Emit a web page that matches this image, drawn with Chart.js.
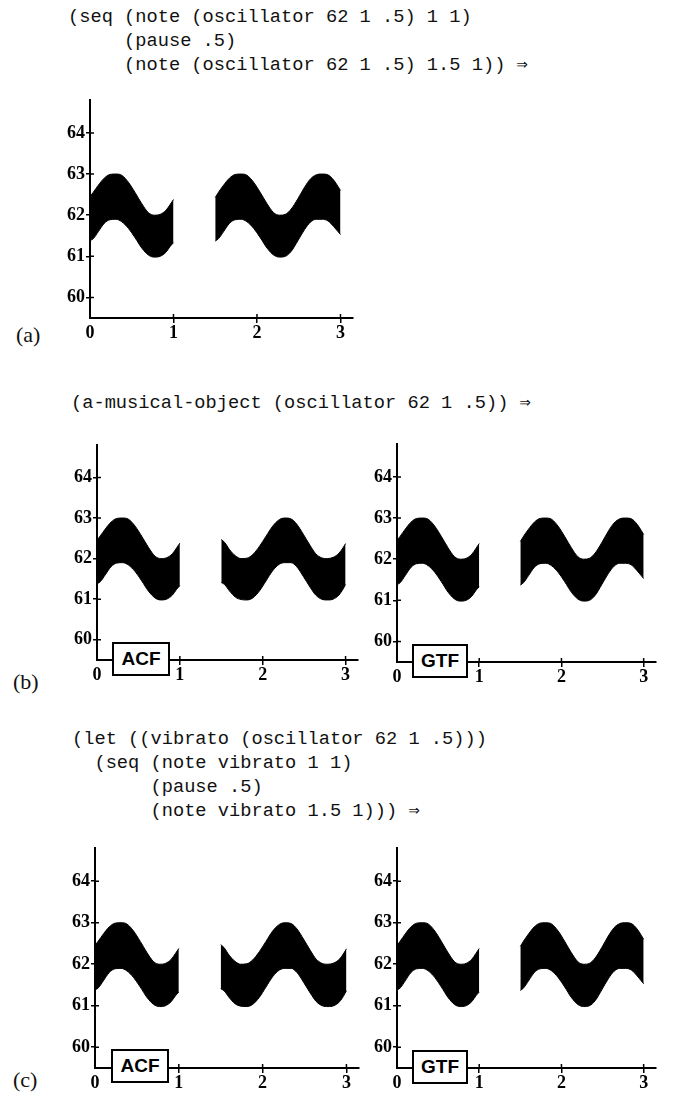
<!DOCTYPE html>
<html>
<head>
<meta charset="utf-8">
<script src="https://cdn.jsdelivr.net/npm/chart.js@4.4.1/dist/chart.umd.min.js"></script>
<style>
  body { margin: 0; background: #fff; width: 673px; height: 1096px; position: relative; overflow: hidden; }
  .code { position: absolute; margin: 0; font-family: "Liberation Mono", "DejaVu Sans Mono", monospace; font-size: 18.7px; line-height: 24px; color: #111; white-space: pre; }
  .part { position: absolute; font-family: "Liberation Serif", serif; font-size: 22px; line-height: 24px; color: #111; }
  .tag { position: absolute; box-sizing: border-box; border: 2px solid #000; background: #fff; z-index: 2;
         font-family: "Liberation Sans", Arial, sans-serif; font-weight: bold; font-size: 19px; line-height: 29px; text-align: center; }
  canvas { position: absolute; }
</style>
</head>
<body>
<pre class="code" style="left:68px; top:5px">(seq (note (oscillator 62 1 .5) 1 1)
     (pause .5)
     (note (oscillator 62 1 .5) 1.5 1)) ⇒</pre>
<pre class="code" style="left:71px; top:391px">(a-musical-object (oscillator 62 1 .5)) ⇒</pre>
<pre class="code" style="left:72px; top:727px">(let ((vibrato (oscillator 62 1 .5)))
  (seq (note vibrato 1 1)
       (pause .5)
       (note vibrato 1.5 1))) ⇒</pre>

<div class="part" style="left:16px; top:323px">(a)</div>
<div class="part" style="left:13px; top:670px">(b)</div>
<div class="part" style="left:13px; top:1068px">(c)</div>

<div class="tag" style="left:112px; top:642px; width:58px; height:34px">ACF</div>
<div class="tag" style="left:412px; top:644px; width:56px; height:34px">GTF</div>
<div class="tag" style="left:111px; top:1049px; width:58px; height:34px">ACF</div>
<div class="tag" style="left:412px; top:1050px; width:56px; height:34px">GTF</div>

<script>
// tick values shown on every panel
const xTickValues = [0, 1, 2, 3];
const yTickValues = [60, 61, 62, 63, 64];

// first note (0 - 1), same in every panel
const note1Times = [0, 0.04, 0.1, 0.17, 0.24, 0.31, 0.38, 0.46, 0.54, 0.62, 0.7, 0.77, 0.84, 0.91, 0.96, 1.0];
const note1Upper = [62.45, 62.56, 62.73, 62.9, 62.99, 63.0, 62.97, 62.8, 62.55, 62.28, 62.06, 62.0, 62.02, 62.12, 62.26, 62.38];
const note1Lower = [61.38, 61.43, 61.6, 61.8, 61.89, 61.9, 61.84, 61.68, 61.45, 61.2, 61.03, 60.98, 61.0, 61.1, 61.24, 61.33];

// second note (1.5 - 3)
const note2Times = [1.5, 1.54, 1.6, 1.67, 1.74, 1.81, 1.88, 1.96, 2.04, 2.12, 2.2, 2.27, 2.34, 2.41, 2.49, 2.57, 2.64, 2.71, 2.78, 2.85, 2.92, 2.97, 3.0];
// vibrato restarted at the note onset (a, GTF)
const restartUpper = [62.43, 62.56, 62.73, 62.9, 62.99, 63.0, 62.97, 62.8, 62.55, 62.28, 62.06, 62.0, 62.02, 62.15, 62.4, 62.68, 62.88, 62.98, 63.0, 62.98, 62.85, 62.7, 62.6];
const restartLower = [61.37, 61.43, 61.6, 61.8, 61.89, 61.9, 61.84, 61.68, 61.45, 61.2, 61.03, 60.98, 61.0, 61.12, 61.38, 61.65, 61.83, 61.9, 61.9, 61.86, 61.72, 61.6, 61.53];
// vibrato following absolute time (ACF)
const sharedUpper = [62.47, 62.4, 62.22, 62.07, 62.0, 62.01, 62.1, 62.3, 62.55, 62.8, 62.96, 63.0, 62.98, 62.85, 62.6, 62.33, 62.12, 62.02, 62.0, 62.03, 62.13, 62.27, 62.37];
const sharedLower = [61.41, 61.36, 61.2, 61.05, 60.99, 60.98, 61.03, 61.2, 61.45, 61.7, 61.86, 61.9, 61.9, 61.8, 61.56, 61.3, 61.1, 61.0, 60.98, 61.0, 61.1, 61.25, 61.36];

const X_MIN = 0, X_MAX = 3.15;
const Y_MIN = 59.5, Y_MAX = 64.8;

// space around the plot area inside each canvas
const Y_AXIS_W = 50;
const X_AXIS_H = 30;
const PAD_TOP = 16;
const PAD_RIGHT = 12;

const tickFont = { family: '"Liberation Serif", serif', weight: 'bold', size: 18 };

function points(times, values) {
    return times.map((t, i) => ({ x: t, y: values[i] }));
}

function band(times, upper, lower) {
    const common = { borderColor: '#000', borderWidth: 1, pointRadius: 0, cubicInterpolationMode: 'monotone' };
    return [
        Object.assign({ data: points(times, upper), fill: false }, common),
        Object.assign({ data: points(times, lower), fill: '-1', backgroundColor: '#000' }, common)
    ];
}

// small tick marks on the inside of the axes, so ticks cross the axis line
const crossTicks = {
    id: 'crossTicks',
    afterDatasetsDraw(chart) {
        const { ctx, chartArea, scales } = chart;
        ctx.save();
        ctx.strokeStyle = '#000';
        ctx.lineWidth = 1.5;
        ctx.beginPath();
        scales.x.ticks.forEach(t => {
            if (t.value === 0) return;
            const px = scales.x.getPixelForValue(t.value);
            ctx.moveTo(px, chartArea.bottom);
            ctx.lineTo(px, chartArea.bottom - 4);
        });
        scales.y.ticks.forEach(t => {
            const py = scales.y.getPixelForValue(t.value);
            ctx.moveTo(chartArea.left, py);
            ctx.lineTo(chartArea.left + 4, py);
        });
        ctx.stroke();
        ctx.restore();
    }
};

function makeChart(area, upper2, lower2) {
    const canvas = document.createElement('canvas');
    const w = area.right - area.left + Y_AXIS_W + PAD_RIGHT;
    const h = area.bottom - area.top + PAD_TOP + X_AXIS_H;
    canvas.width = w;
    canvas.height = h;
    canvas.style.left = (area.left - Y_AXIS_W) + 'px';
    canvas.style.top = (area.top - PAD_TOP) + 'px';
    canvas.style.width = w + 'px';
    canvas.style.height = h + 'px';
    document.body.appendChild(canvas);

    return new Chart(canvas.getContext('2d'), {
        type: 'line',
        data: {
            datasets: band(note1Times, note1Upper, note1Lower).concat(band(note2Times, upper2, lower2))
        },
        options: {
            responsive: false,
            animation: false,
            devicePixelRatio: 1,
            layout: { padding: { top: PAD_TOP, right: PAD_RIGHT, left: 0, bottom: 0 } },
            plugins: { legend: { display: false }, tooltip: { enabled: false } },
            scales: {
                x: {
                    type: 'linear',
                    min: X_MIN,
                    max: X_MAX,
                    afterBuildTicks: s => { s.ticks = xTickValues.map(v => ({ value: v })); },
                    afterFit: s => { s.height = X_AXIS_H; },
                    border: { display: true, color: '#000', width: 2 },
                    grid: {
                        drawOnChartArea: false,
                        tickLength: 5,
                        lineWidth: 1.5,
                        tickColor: c => (c.tick && c.tick.value === 0 ? 'rgba(0,0,0,0)' : '#000')
                    },
                    ticks: { color: '#000', font: tickFont, padding: 0, maxRotation: 0, autoSkip: false }
                },
                y: {
                    type: 'linear',
                    min: Y_MIN,
                    max: Y_MAX,
                    afterBuildTicks: s => { s.ticks = yTickValues.map(v => ({ value: v })); },
                    afterFit: s => { s.width = Y_AXIS_W; },
                    border: { display: true, color: '#000', width: 2 },
                    grid: { drawOnChartArea: false, tickLength: 4, lineWidth: 1.5, tickColor: '#000' },
                    ticks: { color: '#000', font: tickFont, padding: 1, autoSkip: false }
                }
            }
        },
        plugins: [crossTicks]
    });
}

// (a) two separate oscillators
makeChart({ left: 90, top: 100, right: 353, bottom: 318 }, restartUpper, restartLower);
// (b) a-musical-object
makeChart({ left: 97, top: 445, right: 358, bottom: 660 }, sharedUpper, sharedLower);
makeChart({ left: 397, top: 444, right: 656, bottom: 662 }, restartUpper, restartLower);
// (c) let-bound vibrato
makeChart({ left: 95, top: 848, right: 359, bottom: 1068 }, sharedUpper, sharedLower);
makeChart({ left: 397, top: 848, right: 656, bottom: 1068 }, restartUpper, restartLower);
</script>
</body>
</html>
